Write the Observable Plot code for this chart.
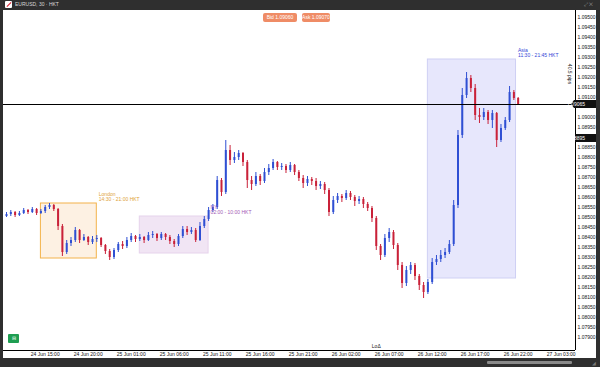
<!DOCTYPE html>
<html><head><meta charset="utf-8">
<script src="https://cdn.jsdelivr.net/npm/d3@7"></script>
<script src="https://cdn.jsdelivr.net/npm/@observablehq/plot@0.6"></script>
<style>
body{margin:0;background:#2f2f2f;font-family:"Liberation Sans",Arial,sans-serif;}
#wrap{position:relative;width:600px;height:367px;background:#2f2f2f;overflow:hidden}
#chart{position:absolute;left:3px;top:10px;width:593px;height:348px;background:#fff}
#chart svg{position:absolute;left:0;top:0;overflow:visible}
.t{position:absolute;font-size:5px;line-height:9px;white-space:nowrap}
</style></head>
<body><div id="wrap">
<div class="t" style="left:5px;top:1px;width:7px;height:7px;background:#fff;border-radius:1px"></div>
<div class="t" style="left:6px;top:4px;width:6px;height:1px;background:#d23;transform:rotate(-45deg)"></div>
<div class="t" style="left:15px;top:0px;color:#d8d8d8">EURUSD, 30 · HKT</div>
<div class="t" style="left:584px;top:0px;color:#9a9a9a">⤢ ✕</div>
<div id="chart"></div>
<div class="t" style="left:263px;top:13px;width:34px;height:9px;background:#ef8c66;border-radius:2px;color:#fff;text-align:center">Bid 1.09060</div>
<div class="t" style="left:302px;top:13px;width:28px;height:9px;background:#ef8c66;border-radius:2px;color:#fff;text-align:center">Ask 1.09070</div>
<div class="t" style="left:8px;top:334px;width:11px;height:9px;background:#1f9e52;border-radius:1px;color:#fff;text-align:center">⊟</div>
<div class="t" style="left:487px;top:361px;width:85px;height:3px;background:#8a8a8a;border-radius:1px"></div>
<div class="t" style="left:592px;top:359px;color:#777">◢</div>
</div>
<script>
// ---- data (EUR/USD, 30-minute candles, prices) ----
const firstOpen = 1.08505;
const closes = [1.08515,1.08525,1.08510,1.08520,1.08535,1.08525,1.08540,1.08520,1.08530,1.08550,
1.08560,1.08540,1.08455,1.08325,1.08370,1.08385,1.08435,1.08385,1.08400,1.08375,
1.08390,1.08395,1.08360,1.08330,1.08300,1.08335,1.08365,1.08355,1.08385,1.08405,
1.08390,1.08400,1.08385,1.08410,1.08415,1.08395,1.08415,1.08400,1.08380,1.08365,
1.08405,1.08440,1.08425,1.08435,1.08385,1.08455,1.08490,1.08535,1.08550,1.08685,
1.08625,1.08835,1.08785,1.08800,1.08820,1.08775,1.08685,1.08665,1.08705,1.08680,
1.08725,1.08745,1.08775,1.08750,1.08755,1.08735,1.08760,1.08725,1.08695,1.08670,
1.08690,1.08680,1.08655,1.08665,1.08635,1.08525,1.08585,1.08605,1.08595,1.08620,
1.08600,1.08580,1.08590,1.08565,1.08545,1.08495,1.08355,1.08310,1.08395,1.08425,
1.08360,1.08260,1.08170,1.08235,1.08260,1.08205,1.08160,1.08125,1.08175,1.08275,
1.08290,1.08310,1.08325,1.08365,1.08560,1.08910,1.09110,1.09195,1.09145,1.09010,
1.09000,1.09025,1.08985,1.09020,1.08885,1.08945,1.08985,1.09125,1.09095,1.09065];
const highs = [1.08525,1.08535,1.08530,1.08530,1.08545,1.08540,1.08550,1.08545,1.08540,1.08560,
1.08570,1.08565,1.08545,1.08465,1.08385,1.08400,1.08450,1.08440,1.08415,1.08405,
1.08405,1.08410,1.08400,1.08365,1.08340,1.08345,1.08375,1.08380,1.08400,1.08420,
1.08410,1.08415,1.08405,1.08425,1.08430,1.08420,1.08425,1.08420,1.08410,1.08390,
1.08415,1.08455,1.08455,1.08450,1.08445,1.08475,1.08505,1.08550,1.08565,1.08705,
1.08695,1.08885,1.08860,1.08825,1.08835,1.08825,1.08785,1.08705,1.08725,1.08715,
1.08745,1.08765,1.08790,1.08780,1.08770,1.08765,1.08775,1.08765,1.08735,1.08710,
1.08705,1.08700,1.08695,1.08680,1.08675,1.08645,1.08605,1.08620,1.08615,1.08635,
1.08630,1.08610,1.08605,1.08600,1.08575,1.08555,1.08505,1.08365,1.08415,1.08445,
1.08435,1.08370,1.08275,1.08255,1.08275,1.08270,1.08215,1.08175,1.08190,1.08295,
1.08310,1.08335,1.08345,1.08385,1.08585,1.08935,1.09145,1.09225,1.09210,1.09165,
1.09045,1.09045,1.09035,1.09035,1.09025,1.08965,1.09000,1.09155,1.09135,1.09100];
const lows = [1.08500,1.08505,1.08500,1.08505,1.08515,1.08515,1.08520,1.08510,1.08515,1.08520,
1.08540,1.08530,1.08435,1.08305,1.08315,1.08355,1.08375,1.08370,1.08380,1.08360,
1.08365,1.08375,1.08350,1.08315,1.08285,1.08290,1.08325,1.08340,1.08345,1.08375,
1.08375,1.08380,1.08370,1.08380,1.08395,1.08380,1.08385,1.08385,1.08365,1.08350,
1.08355,1.08395,1.08410,1.08415,1.08375,1.08380,1.08445,1.08480,1.08525,1.08540,
1.08605,1.08615,1.08760,1.08770,1.08785,1.08755,1.08645,1.08635,1.08655,1.08660,
1.08670,1.08710,1.08735,1.08735,1.08735,1.08720,1.08725,1.08710,1.08680,1.08645,
1.08655,1.08660,1.08635,1.08640,1.08615,1.08505,1.08515,1.08570,1.08575,1.08585,
1.08585,1.08555,1.08565,1.08545,1.08530,1.08475,1.08335,1.08285,1.08300,1.08375,
1.08340,1.08235,1.08145,1.08155,1.08215,1.08185,1.08135,1.08095,1.08115,1.08165,
1.08260,1.08275,1.08295,1.08315,1.08355,1.08545,1.08895,1.09095,1.09125,1.08985,
1.08970,1.08985,1.08965,1.08945,1.08850,1.08875,1.08935,1.08975,1.09085,1.09060];
const startTime = "2024-06-24T10:30Z";
const candleMinutes = 30;

const sessionNames = ["London", "NY", "Asia"];
const sessionRanges = ["14:30 - 21:00 HKT", "02:00 - 10:00 HKT", "11:30 - 21:45 HKT"];
const sessionStarts = ["2024-06-24T14:30Z", "2024-06-25T02:00Z", "2024-06-26T11:30Z"];
const sessionEnds = ["2024-06-24T21:00Z", "2024-06-25T10:00Z", "2024-06-26T21:45Z"];
const sessionHighs = [1.08570, 1.08505, 1.09290];
const sessionLows = [1.08295, 1.08320, 1.08195];

const xTickTimes = ["2024-06-24T15:00Z","2024-06-24T20:00Z","2024-06-25T01:00Z","2024-06-25T06:00Z",
"2024-06-25T11:00Z","2024-06-25T16:00Z","2024-06-25T21:00Z","2024-06-26T02:00Z","2024-06-26T07:00Z",
"2024-06-26T12:00Z","2024-06-26T17:00Z","2024-06-26T22:00Z","2024-06-27T03:00Z"];
const yTickStart = 1.0790, yTickStep = 0.0005, yTickCount = 33;
const xDomain = ["2024-06-24T10:09Z", "2024-06-27T04:40Z"];
const yDomain = [1.07835, 1.09535];
const markedPrice = 1.08895;
const eventTime = "2024-06-26T05:30Z";
const rangeNote = "40.5 pips";

// ---- build ----
const t0 = new Date(startTime).getTime();
const opens = [firstOpen, ...closes.slice(0, -1)];
const candles = closes.map((c, i) => ({
  t: new Date(t0 + i * candleMinutes * 60000), o: opens[i], h: highs[i], l: lows[i], c
}));
const sessions = sessionNames.map((name, i) => ({
  name, range: sessionRanges[i], start: new Date(sessionStarts[i]), end: new Date(sessionEnds[i]),
  high: sessionHighs[i], low: sessionLows[i]
}));
const sFill = {London: "#fdf1e3", NY: "#f1e5f4", Asia: "#e7e7fc"};
const sStroke = {London: "#f3b24a", NY: "#e6d3ec", Asia: "#cfd0f4"};
const sText = {London: "#e0a23a", NY: "#a35bb5", Asia: "#3446d6"};
const UP = "#2f4fd3", DOWN = "#c92139";
const col = d => d.c >= d.o ? UP : DOWN;
const lastPrice = closes[closes.length - 1];
const tagPrices = [lastPrice, markedPrice];
const yTicks = d3.range(yTickCount).map(k => +(yTickStart + k * yTickStep).toFixed(5))
  .filter(v => tagPrices.every(p => Math.abs(v - p) > 0.00028));
const xTicks = xTickTimes.map(s => new Date(s));
const xd = xDomain.map(s => new Date(s));

const plot = Plot.plot({
  width: 593, height: 348,
  marginLeft: 0, marginRight: 21, marginTop: 0, marginBottom: 8,
  style: {fontSize: "5px", fontFamily: "Liberation Sans, Arial, sans-serif", color: "#111", background: "transparent", overflow: "visible"},
  x: {type: "utc", domain: xd},
  y: {domain: yDomain},
  marks: [
    Plot.rect(sessions, {x1: "start", x2: "end", y1: "low", y2: "high",
      fill: d => sFill[d.name], stroke: d => sStroke[d.name], strokeWidth: 1}),
    Plot.ruleX(candles, {x: "t", y1: "l", y2: "h", stroke: col, strokeWidth: 1}),
    Plot.ruleX(candles, {x: "t", y1: "o", y2: "c", stroke: col, strokeWidth: 2}),
    Plot.text(sessions, {x: "end", y: "high", text: d => d.name + "\n" + d.range,
      dx: 2, dy: -3, textAnchor: "start", lineAnchor: "bottom", lineHeight: 0.9,
      fill: d => sText[d.name], fontSize: 5}),
    Plot.ruleY([lastPrice], {stroke: "#000", strokeWidth: 1}),
    Plot.ruleY([yDomain[0]], {stroke: "#000", strokeWidth: 1}),
    Plot.ruleX([xd[1]], {stroke: "#000", strokeWidth: 1}),
    Plot.text([new Date(eventTime)], {x: d => d, frameAnchor: "bottom", text: () => "LoΔ", dy: -3, fontSize: 5, fill: "#222"}),
    Plot.axisY(yTicks, {anchor: "right", tickSize: 0, tickPadding: 2, textAnchor: "start",
      tickFormat: d => d.toFixed(5), label: null, fontSize: 5}),
    Plot.axisX(xTicks, {anchor: "bottom", tickSize: 0, tickPadding: 2,
      tickFormat: d3.utcFormat("%d %b %H:%M"), label: null, fontSize: 5})
  ]
});
document.getElementById("chart").appendChild(plot);

// price tags placed with the plot's own y scale
const ys = plot.scale("y");
const svg = d3.select(plot);
const yl = ys.apply(lastPrice);
svg.append("path").attr("d", `M568,${yl} L571,${yl-4} L593,${yl-4} L593,${yl+4} L571,${yl+4} Z`).attr("fill", "#111");
svg.append("text").attr("x", 573).attr("y", yl).attr("dy", "0.35em").attr("fill", "#fff")
  .attr("font-size", 5).text(lastPrice.toFixed(5));
const ym = ys.apply(markedPrice);
svg.append("rect").attr("x", 572).attr("y", ym - 4).attr("width", 21).attr("height", 8).attr("fill", "#111");
svg.append("text").attr("x", 573).attr("y", ym).attr("dy", "0.35em").attr("fill", "#fff")
  .attr("font-size", 5).text(markedPrice.toFixed(5));
svg.append("text").attr("transform", `translate(565,${ys.apply(1.09215)}) rotate(90)`)
  .attr("font-size", 5).attr("fill", "#222").attr("text-anchor", "middle").text(rangeNote);
</script>
</body></html>
